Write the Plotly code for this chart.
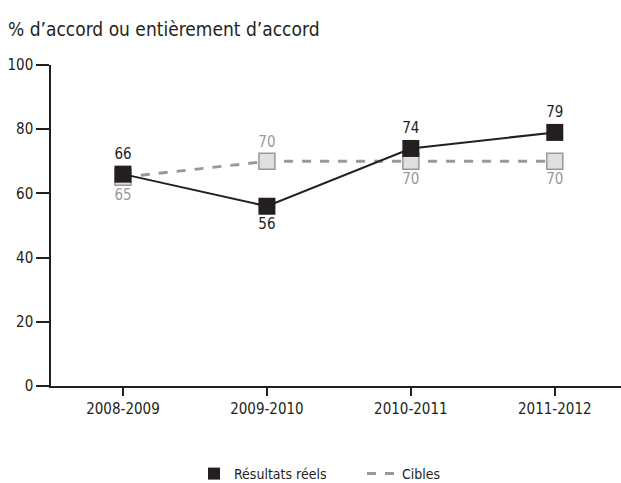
import plotly.graph_objects as go

categories = ["2008-2009", "2009-2010", "2010-2011", "2011-2012"]
resultats = [66, 56, 74, 79]
cibles = [65, 70, 70, 70]
res_pos = ["top center", "bottom center", "top center", "top center"]
cib_pos = ["bottom center", "top center", "bottom center", "bottom center"]
y_ticks = [0, 20, 40, 60, 80, 100]

FONT = "DejaVu Sans Condensed, Liberation Sans Narrow, sans-serif"

fig = go.Figure()

# Cibles (behind)
fig.add_trace(go.Scatter(
    x=categories, y=cibles, mode="lines+markers+text",
    line=dict(color="#999999", width=3, dash="dash"),
    marker=dict(symbol="square", size=16, color="#dedfe0",
                line=dict(color="#9a9a9a", width=1.5)),
    text=[str(v) for v in cibles], textposition=cib_pos,
    textfont=dict(family=FONT, size=15, color="#9a9a9a"),
    showlegend=False, cliponaxis=False,
))
# Résultats réels
fig.add_trace(go.Scatter(
    x=categories, y=resultats, mode="lines+markers+text",
    line=dict(color="#231f20", width=2),
    marker=dict(symbol="square", size=17, color="#231f20"),
    text=[str(v) for v in resultats], textposition=res_pos,
    textfont=dict(family=FONT, size=15, color="#231f20"),
    showlegend=False, cliponaxis=False,
))
# legend entries
fig.add_trace(go.Scatter(
    x=[None], y=[None], mode="markers", name="Résultats réels",
    marker=dict(symbol="square", size=12, color="#231f20"), legendrank=1,
))
fig.add_trace(go.Scatter(
    x=[None], y=[None], mode="lines", name="Cibles",
    line=dict(color="#999999", width=3, dash="dash"), legendrank=2,
))

fig.update_layout(
    width=621, height=483,
    margin=dict(l=51, r=0, t=65, b=97),
    paper_bgcolor="white", plot_bgcolor="white",
    font=dict(family=FONT, size=15, color="#231f20"),
    showlegend=True,
    legend=dict(orientation="h", x=(194 - 51) / 570, xanchor="left",
                yref="container", y=(483 - 474) / 483, yanchor="middle",
                font=dict(family=FONT, size=14, color="#231f20"),
                itemwidth=30, entrywidth=123, entrywidthmode="pixels",
                tracegroupgap=0),
    annotations=[dict(text="% d’accord ou entièrement d’accord", xref="paper", yref="paper",
                      x=-45/570, y=1 + 36/321, xanchor="left", yanchor="middle",
                      showarrow=False, font=dict(family=FONT, size=19, color="#231f20"))],
)
fig.update_xaxes(
    type="category", range=[-0.5, 3.46],
    showgrid=False, showline=True, linecolor="#231f20", linewidth=1.5,
    ticks="outside", ticklen=8, tickcolor="#231f20", tickwidth=1.5,
    tickfont=dict(family=FONT, size=15, color="#231f20"),
)
fig.update_yaxes(
    range=[0, 100], tickvals=y_ticks, showgrid=False, zeroline=False,
    showline=True, linecolor="#231f20", linewidth=1.5,
    ticks="outside", ticklen=13, tickcolor="#231f20", tickwidth=1.5,
    tickfont=dict(family=FONT, size=15, color="#231f20"),
)

fig.write_html("out.html")
